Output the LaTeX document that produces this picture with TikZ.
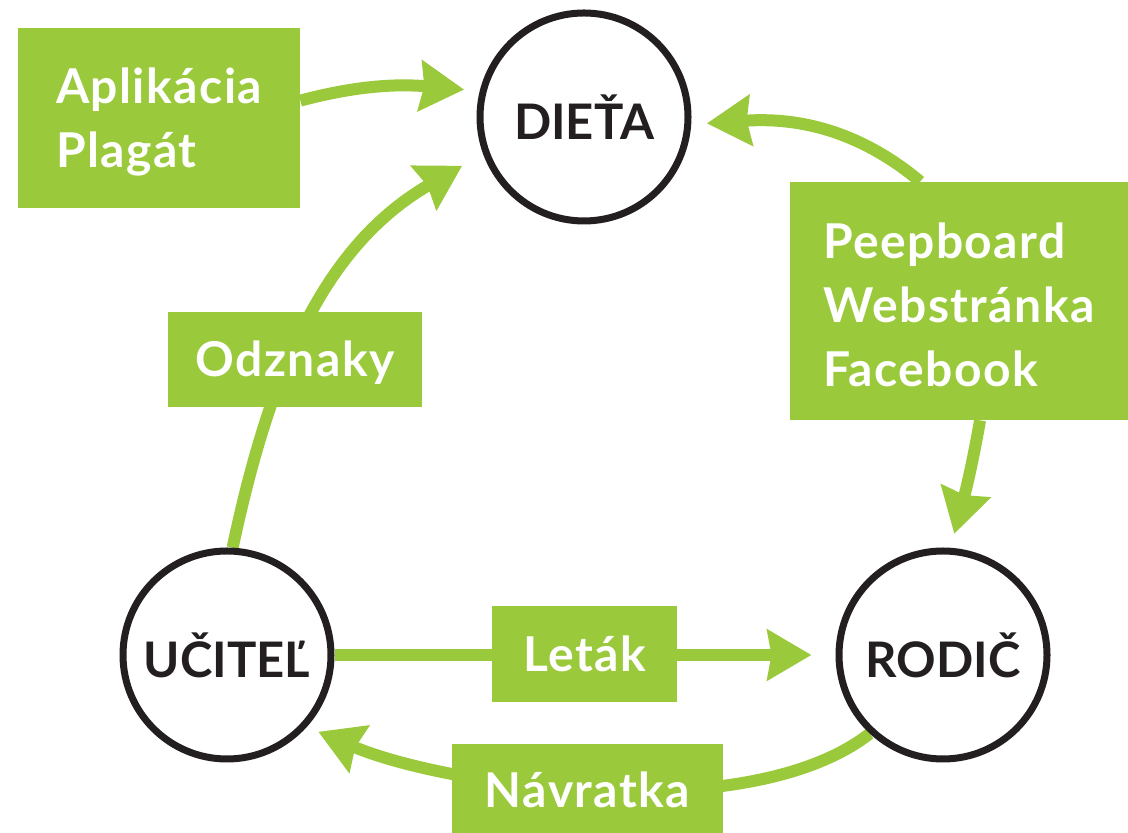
\documentclass[tikz,border=0pt]{standalone}
\usepackage{fontspec}
\setmainfont{Lato}
\newfontfamily\boxfont[LetterSpace=3]{Lato}
\usetikzlibrary{arrows.meta,backgrounds}
\definecolor{zelena}{RGB}{154,202,60}
\definecolor{cierna}{RGB}{35,31,32}
\begin{document}
\begin{tikzpicture}[x=0.5pt,y=0.5pt,
    kruh/.style={circle,draw=cierna,line width=3.5pt,fill=white,minimum size=104pt,inner sep=0pt,
        font=\bfseries\fontsize{24.5}{28}\selectfont,text=cierna},
    box/.style={fill=zelena,text=white,align=left,inner sep=0pt,
        font=\boxfont\bfseries\fontsize{24}{32}\selectfont},
    arr/.style={draw=zelena,line width=6pt,-{Stealth[length=22pt,width=25pt,inset=2pt]},shorten >=7.8pt}]
    \useasboundingbox (0,0) rectangle (1128,833);
    \node[kruh] (dieta) at (584,716) {DIEŤA};
    \node[kruh] (ucitel) at (227,178) {UČITEĽ};
    \node[kruh] (rodic) at (943,178) {RODIČ};
    \node[box,minimum width=141pt,minimum height=90pt,text depth=0pt] (app) at (159,715) {Aplikácia\\Plagát};
    \node[box,minimum width=169pt,minimum height=119pt,text height=86pt] (peep) at (959,532) {Peepboard\\Webstránka\\Facebook};
    \node[box,minimum width=127pt,minimum height=47.5pt,text depth=1pt] (odznaky) at (295,473.5) {Odznaky};
    \node[box,minimum width=92.5pt,minimum height=48pt] (letak) at (584.5,179) {Leták};
    \node[box,minimum width=135.5pt,minimum height=45.5pt] (navratka) at (587.5,43) {Návratka};
    \begin{scope}[on background layer]
    \draw[arr] (app.7) to[out=15,in=175] (dieta.166);
    \draw[arr,shorten >=12pt] (ucitel.87) to[out=78,in=210] (dieta.200);
    \draw[arr,shorten >=12pt] (ucitel) -- (rodic);
    \draw[arr] (peep.108) to[out=140,in=4] (dieta.-4);
    \draw[arr,shorten >=7.2pt] (peep.-80) to[out=260,in=75] (rodic.86);
    \draw[arr,shorten >=6.2pt,looseness=0.7] (rodic.227) to[out=218,in=337] (ucitel.-42);
    \end{scope}
\end{tikzpicture}
\end{document}
